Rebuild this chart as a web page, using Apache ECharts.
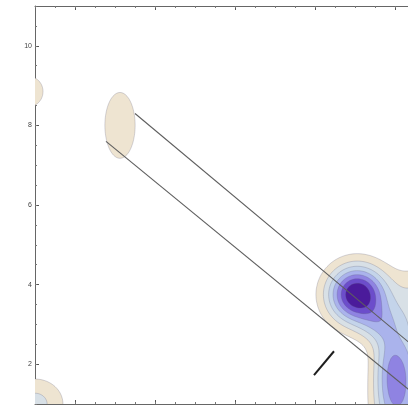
<!DOCTYPE html>
<html><head><meta charset="utf-8">
<script src="https://cdn.jsdelivr.net/npm/echarts@6/dist/echarts.min.js"></script>
<style>html,body{margin:0;padding:0;background:#fff}#c{width:408px;height:406px}</style>
</head><body><div id="c"></div>
<script>
// ---- data ----
// density source blobs (centre x, centre y, spread x, spread y, weight)
const blobX  = [9.05, 9.83, 10.3, 10.1, 10.8, 9.55, 3.125, 0.85, 1.0];
const blobY  = [3.75, 1.85, 1.85, 0.7,  3.6,  3.0,  8.0,   8.85, 1.0];
const blobSX = [0.5,  0.3,  0.35, 0.45, 0.6,  0.35, 0.42,  0.39, 0.535];
const blobSY = [0.5,  0.85, 0.85, 0.6,  0.6,  0.35, 0.92,  0.42, 0.48];
const blobW  = [8.2,  3.4,  3.4,  2.2,  2.3,  2.0,  1.5,   1.5,  2.35];
const contourLevels = [1, 2, 3, 4, 5, 6, 7];
const levelColors = ['#eee4d1', '#d8e0e6', '#c4d4ea', '#aab3ec', '#8f83e2', '#6c4dcb', '#4b1b9b'];
const upperLine = [[3.5, 8.3], [11, 2.0]];
const lowerLine = [[2.775, 7.6], [11, 0.82]];
const shortLine = [[7.975, 1.725], [8.475, 2.325]];
const xMajorTicks = [2, 4, 6, 8, 10];
const yTickLabels = [2, 4, 6, 8, 10];
const xRange = [1, 11];
const yRange = [1, 11];

// ---- density grid ----
const STEP = 0.05;
const nx = Math.round((xRange[1] - xRange[0]) / STEP) + 1;
const ny = Math.round((yRange[1] - yRange[0]) / STEP) + 1;
const gx = [], gy = [];
for (let i = 0; i < nx; i++) gx.push(xRange[0] + i * STEP);
for (let j = 0; j < ny; j++) gy.push(yRange[0] + j * STEP);
const field = [];
for (let j = 0; j < ny; j++) {
  const row = new Float64Array(nx);
  for (let i = 0; i < nx; i++) {
    let s = 0;
    for (let k = 0; k < blobX.length; k++) {
      const dx = (gx[i] - blobX[k]) / blobSX[k];
      const dy = (gy[j] - blobY[k]) / blobSY[k];
      s += blobW[k] * Math.exp(-0.5 * (dx * dx + dy * dy));
    }
    row[i] = s;
  }
  field.push(row);
}

function renderContours(params, api) {
  const px = gx.map(v => api.coord([v, yRange[0]])[0]);
  const py = gy.map(v => api.coord([xRange[0], v])[1]);
  const children = [];
  let lineD = '';
  for (let L = 0; L < contourLevels.length; L++) {
    const lev = contourLevels[L];
    let d = '';
    for (let j = 0; j < ny - 1; j++) {
      for (let i = 0; i < nx - 1; i++) {
        const cx = [i, i + 1, i + 1, i];
        const cy = [j, j, j + 1, j + 1];
        const v = [field[j][i], field[j][i + 1], field[j + 1][i + 1], field[j + 1][i]];
        if (v[0] < lev && v[1] < lev && v[2] < lev && v[3] < lev) continue;
        const pts = [];
        const cross = [];
        for (let e = 0; e < 4; e++) {
          const a = e, b = (e + 1) % 4;
          const X0 = px[cx[a]], Y0 = py[cy[a]], X1 = px[cx[b]], Y1 = py[cy[b]];
          if (v[a] >= lev) pts.push([X0, Y0]);
          if ((v[a] >= lev) !== (v[b] >= lev)) {
            const t = (lev - v[a]) / (v[b] - v[a]);
            const p = [X0 + t * (X1 - X0), Y0 + t * (Y1 - Y0)];
            pts.push(p);
            cross.push(p);
          }
        }
        d += 'M' + pts.map(p => p[0].toFixed(2) + ',' + p[1].toFixed(2)).join('L') + 'Z';
        if (cross.length === 2) {
          lineD += 'M' + cross[0][0].toFixed(2) + ',' + cross[0][1].toFixed(2) + 'L' + cross[1][0].toFixed(2) + ',' + cross[1][1].toFixed(2);
        } else if (cross.length === 4) {
          const pr = v[0] >= lev ? [[0, 1], [2, 3]] : [[1, 2], [3, 0]];
          pr.forEach(q => {
            lineD += 'M' + cross[q[0]][0].toFixed(2) + ',' + cross[q[0]][1].toFixed(2) + 'L' + cross[q[1]][0].toFixed(2) + ',' + cross[q[1]][1].toFixed(2);
          });
        }
      }
    }
    if (d) children.push({ type: 'path', shape: { pathData: d }, style: { fill: levelColors[L], stroke: 'none' } });
  }
  if (lineD) children.push({ type: 'path', shape: { pathData: lineD }, style: { fill: 'none', stroke: 'rgba(90,90,120,0.35)', lineWidth: 0.7 } });
  return { type: 'group', children: children };
}

const chart = echarts.init(document.getElementById('c'), null, { renderer: 'canvas' });
const lineColor = '#666';
function majorAxis(pos, showLabel, isY) {
  return {
    type: 'value', min: isY ? yRange[0] : xRange[0], max: isY ? yRange[1] : xRange[1], position: pos,
    axisLine: { show: true, onZero: false, lineStyle: { color: lineColor, width: 1 } },
    axisTick: { show: true, inside: true, length: 4, customValues: isY ? yTickLabels : xMajorTicks, lineStyle: { color: '#555', width: 1 } },
    axisLabel: { show: showLabel, customValues: yTickLabels, fontSize: 7, color: '#444', margin: 3, fontFamily: 'Liberation Sans' },
    splitLine: { show: false }
  };
}
function minorAxis(pos, isY) {
  return {
    type: 'value', min: isY ? yRange[0] : xRange[0], max: isY ? yRange[1] : xRange[1], interval: 0.5, position: pos,
    axisLine: { show: false, onZero: false },
    axisTick: { show: true, inside: true, length: 2, lineStyle: { color: '#777', width: 1 } },
    axisLabel: { show: false }, splitLine: { show: false }
  };
}
chart.setOption({
  animation: false,
  backgroundColor: '#fff',
  grid: { left: 35, top: 6, width: 400, height: 398, containLabel: false, outerBoundsMode: 'none' },
  xAxis: [majorAxis('bottom', false, false), minorAxis('bottom', false), majorAxis('top', false, false), minorAxis('top', false)],
  yAxis: [majorAxis('left', true, true), minorAxis('left', true)],
  series: [
    { type: 'custom', silent: true, data: [[xRange[0], yRange[0]]], renderItem: renderContours, z: 1 },
    { type: 'line', data: upperLine, showSymbol: false, clip: true, lineStyle: { color: '#5e5e5e', width: 1.1 }, z: 3 },
    { type: 'line', data: lowerLine, showSymbol: false, clip: true, lineStyle: { color: '#5e5e5e', width: 1.1 }, z: 3 },
    { type: 'line', data: shortLine, showSymbol: false, clip: true, lineStyle: { color: '#1e1e1e', width: 2 }, z: 3 }
  ]
});
</script></body></html>
